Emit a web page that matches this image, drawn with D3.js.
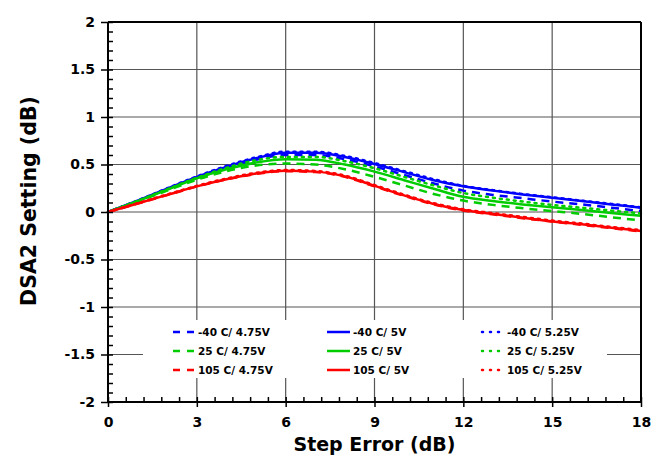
<!DOCTYPE html>
<html>
<head>
<meta charset="utf-8">
<script src="https://cdnjs.cloudflare.com/ajax/libs/d3/7.8.5/d3.min.js"></script>
<style>
  body { margin: 0; background: #fff; }
  svg text { font-family: "DejaVu Sans", Verdana, sans-serif; font-weight: bold; fill: #000; }
</style>
</head>
<body>
<div id="chart"></div>
<script>
// step error (dB) sample points
var stepError = [0, 1, 2, 3, 4, 5, 6, 7, 8, 9, 10, 11, 12, 13, 14, 15, 16, 17, 18];

// DSA2 setting (dB)
var m40_475 = [0, 0.115, 0.24, 0.36, 0.46, 0.55, 0.60, 0.60, 0.555, 0.48, 0.39, 0.30, 0.225, 0.18, 0.145, 0.11, 0.08, 0.045, 0.01];
var m40_500 = [0, 0.12, 0.245, 0.37, 0.475, 0.565, 0.625, 0.625, 0.58, 0.505, 0.42, 0.335, 0.27, 0.225, 0.185, 0.15, 0.115, 0.08, 0.045];
var m40_525 = [0, 0.122, 0.25, 0.375, 0.485, 0.575, 0.635, 0.635, 0.59, 0.515, 0.43, 0.345, 0.275, 0.23, 0.19, 0.155, 0.12, 0.085, 0.05];
var p25_475 = [0, 0.11, 0.225, 0.34, 0.43, 0.49, 0.51, 0.50, 0.45, 0.37, 0.28, 0.19, 0.12, 0.075, 0.04, 0.01, -0.02, -0.055, -0.09];
var p25_500 = [0, 0.115, 0.235, 0.355, 0.45, 0.52, 0.555, 0.55, 0.50, 0.425, 0.335, 0.245, 0.16, 0.115, 0.08, 0.05, 0.02, -0.01, -0.04];
var p25_525 = [0, 0.118, 0.24, 0.36, 0.465, 0.545, 0.58, 0.58, 0.535, 0.46, 0.37, 0.28, 0.20, 0.15, 0.11, 0.075, 0.045, 0.015, -0.015];
var p105_475 = [0, 0.088, 0.178, 0.268, 0.342, 0.40, 0.43, 0.42, 0.37, 0.27, 0.17, 0.08, 0.015, -0.025, -0.065, -0.10, -0.135, -0.17, -0.205];
var p105_500 = [0, 0.09, 0.18, 0.27, 0.345, 0.405, 0.435, 0.425, 0.375, 0.275, 0.175, 0.085, 0.02, -0.02, -0.06, -0.10, -0.13, -0.165, -0.20];
var p105_525 = [0, 0.092, 0.185, 0.275, 0.352, 0.412, 0.442, 0.432, 0.383, 0.283, 0.183, 0.093, 0.028, -0.012, -0.052, -0.09, -0.122, -0.157, -0.19];

var seriesNames = ["-40 C/ 4.75V", "-40 C/ 5V", "-40 C/ 5.25V",
                   "25 C/ 4.75V", "25 C/ 5V", "25 C/ 5.25V",
                   "105 C/ 4.75V", "105 C/ 5V", "105 C/ 5.25V"];
var seriesValues = [m40_475, m40_500, m40_525, p25_475, p25_500, p25_525, p105_475, p105_500, p105_525];

var xTicks = [0, 3, 6, 9, 12, 15, 18];
var yTicks = [-2, -1.5, -1, -0.5, 0, 0.5, 1, 1.5, 2];

var colors = ["#0000ff", "#0000ff", "#0000ff", "#00cc00", "#00cc00", "#00cc00", "#ff0000", "#ff0000", "#ff0000"];
var dashes = ["8,6", null, "2,5"];

var fullWidth = 668, fullHeight = 460;
var margin = {top: 22, right: 27, bottom: 58, left: 108};
var width = fullWidth - margin.left - margin.right,
    height = fullHeight - margin.top - margin.bottom;

var svg = d3.select("#chart").append("svg")
    .attr("width", fullWidth)
    .attr("height", fullHeight);

var g = svg.append("g")
    .attr("transform", "translate(" + margin.left + "," + margin.top + ")");

var x = d3.scaleLinear().domain([0, 18]).range([0, width]);
var y = d3.scaleLinear().domain([-2, 2]).range([height, 0]);

// plain hyphen for negatives, like the original
var fmt = function(d) { return String(d); };

// grid
g.selectAll(".vgrid")
    .data(xTicks.slice(1, -1))
    .enter().append("line")
    .attr("x1", x).attr("x2", x)
    .attr("y1", 0).attr("y2", height)
    .attr("stroke", "#555").attr("stroke-width", 1.2);

g.selectAll(".hgrid")
    .data(yTicks.slice(1, -1))
    .enter().append("line")
    .attr("x1", 0).attr("x2", width)
    .attr("y1", y).attr("y2", y)
    .attr("stroke", "#555").attr("stroke-width", 1.2);

// legend background (covers the grid)
g.append("rect")
    .attr("x", 35).attr("y", 298)
    .attr("width", 464).attr("height", 58)
    .attr("fill", "#fff");

// curves
var line = d3.line()
    .x(function(d, i) { return x(stepError[i]); })
    .y(function(d) { return y(d); })
    .curve(d3.curveMonotoneX);

g.selectAll(".curve")
    .data(seriesValues)
    .enter().append("path")
    .attr("fill", "none")
    .attr("stroke", function(d, i) { return colors[i]; })
    .attr("stroke-width", 2.5)
    .attr("stroke-linecap", function(d, i) { return i % 3 == 2 ? "round" : "butt"; })
    .attr("stroke-dasharray", function(d, i) { return dashes[i % 3]; })
    .attr("d", line);

// axes: minor ticks inside, major ticks outside
var xAxis = d3.axisBottom(x).tickValues(xTicks).tickSize(5).tickPadding(10).tickFormat(fmt);
var gx = g.append("g").attr("transform", "translate(0," + height + ")").call(xAxis);
gx.select(".domain").remove();
gx.selectAll(".tick line").attr("stroke", "#000").attr("stroke-width", 1.5);
gx.selectAll("text").style("font-size", "14px");

var xMinor = d3.axisTop(x).tickValues(d3.range(0, 18.01, 0.6)).tickSize(5).tickFormat("");
var gxm = g.append("g").attr("transform", "translate(0," + height + ")").call(xMinor);
gxm.select(".domain").remove();
gxm.selectAll(".tick line").attr("stroke", "#000").attr("stroke-width", 1.5);

var yAxis = d3.axisLeft(y).tickValues(yTicks).tickSize(7).tickPadding(6).tickFormat(fmt);
var gy = g.append("g").call(yAxis);
gy.select(".domain").remove();
gy.selectAll(".tick line").attr("stroke", "#000").attr("stroke-width", 1.5);
gy.selectAll("text").style("font-size", "14px");

var yMinor = d3.axisRight(y).tickValues(d3.range(-2, 2.001, 0.1)).tickSize(5).tickFormat("");
var gym = g.append("g").call(yMinor);
gym.select(".domain").remove();
gym.selectAll(".tick line").attr("stroke", "#000").attr("stroke-width", 1.5);

// frame
g.append("line").attr("x1", 0).attr("x2", 0).attr("y1", 0).attr("y2", height)
    .attr("stroke", "#000").attr("stroke-width", 2);
g.append("line").attr("x1", 0).attr("x2", width).attr("y1", height).attr("y2", height)
    .attr("stroke", "#000").attr("stroke-width", 2);
g.append("line").attr("x1", 0).attr("x2", width).attr("y1", 0).attr("y2", 0)
    .attr("stroke", "#000").attr("stroke-width", 2);
g.append("line").attr("x1", width).attr("x2", width).attr("y1", 0).attr("y2", height)
    .attr("stroke", "#000").attr("stroke-width", 2);

// axis titles
svg.append("text")
    .attr("x", margin.left + width / 2).attr("y", 451)
    .attr("text-anchor", "middle")
    .style("font-size", "19px")
    .text("Step Error (dB)");

svg.append("text")
    .attr("transform", "translate(36,201) rotate(-90)")
    .attr("text-anchor", "middle")
    .style("font-size", "20.5px")
    .text("DSA2 Setting (dB)");

// legend
var legendCols = [65, 219, 374];
var legendLen = [22, 23, 18];
var legendRows = [310, 329, 348];
var legend = g.selectAll(".legend")
    .data(seriesNames)
    .enter().append("g")
    .attr("transform", function(d, i) {
        var col = i % 3, row = Math.floor(i / 3);
        return "translate(" + legendCols[col] + "," + legendRows[row] + ")";
    });

legend.append("line")
    .attr("x1", 0).attr("x2", function(d, i) { return legendLen[i % 3]; })
    .attr("stroke", function(d, i) { return colors[i]; })
    .attr("stroke-width", 2.5)
    .attr("stroke-linecap", function(d, i) { return i % 3 == 2 ? "round" : "butt"; })
    .attr("stroke-dasharray", function(d, i) { return i % 3 == 0 ? "7,7" : (i % 3 == 2 ? "1,7" : null); });

legend.append("text")
    .attr("x", function(d, i) { return i % 3 == 1 ? 26 : 25; })
    .attr("dy", "0.35em")
    .style("font-size", "10.5px")
    .text(function(d) { return d; });
</script>
</body>
</html>
